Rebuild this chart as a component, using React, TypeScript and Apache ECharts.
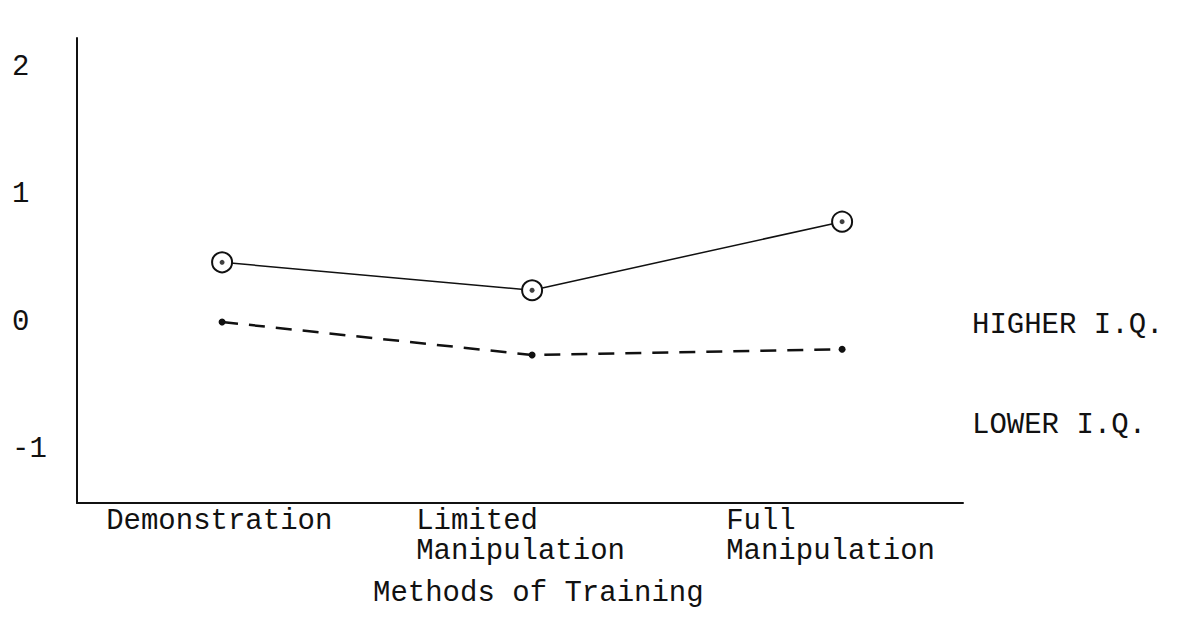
import React, { useEffect, useRef } from "react";
import * as echarts from "echarts";

const categories = ["Demonstration", "Limited\nManipulation", "Full\nManipulation"];
const categoryPositions = [1, 2, 3];
const higherIQ = [0.47, 0.25, 0.79];
const lowerIQ = [0.0, -0.26, -0.215];
const yTickValues = [-1, 0, 1, 2];
const xTitle = "Methods of Training";
const higherLabel = "HIGHER I.Q.";
const lowerLabel = "LOWER I.Q.";

const FONT = '"Liberation Mono", "DejaVu Sans Mono", monospace';
const FS = 29;
const INK = "#111";
const LABEL_SHIFT = 0.374;

export default function App() {
  const ref = useRef<HTMLDivElement>(null);
  useEffect(() => {
    if (!ref.current) return;
    const chart = echarts.init(ref.current, null, { renderer: "svg" });
    const higherData = categoryPositions.map((x, i) => [x, higherIQ[i]]);
    const lowerData = categoryPositions.map((x, i) => [x, lowerIQ[i]]);
    const labelValues = categoryPositions.map((x) => x - LABEL_SHIFT);
    chart.setOption({
      animation: false,
      backgroundColor: "#fff",
      grid: { left: 77, right: 215, top: 38, bottom: 124, containLabel: false },
      xAxis: {
        type: "value",
        min: 0.532,
        max: 3.39,
        axisLine: { show: true, onZero: false, lineStyle: { color: INK, width: 2 } },
        axisTick: { show: false },
        splitLine: { show: false },
        axisLabel: {
          customValues: labelValues,
          align: "left",
          verticalAlign: "top",
          margin: 3,
          color: INK,
          fontFamily: FONT,
          fontSize: FS,
          lineHeight: 30,
          formatter: (v: number) => {
            const idx = Math.round(v + LABEL_SHIFT) - 1;
            return categories[idx] ?? "";
          },
        },
      },
      yAxis: {
        type: "value",
        min: -1.425,
        max: 2.236,
        axisLine: { show: true, onZero: false, lineStyle: { color: INK, width: 2 } },
        axisTick: { show: false },
        splitLine: { show: false },
        axisLabel: {
          customValues: yTickValues,
          align: "left",
          margin: 65,
          color: INK,
          fontFamily: FONT,
          fontSize: FS,
          formatter: (v: number) => String(v),
        },
      },
      series: [
        {
          type: "line",
          data: higherData,
          symbol: "emptyCircle",
          symbolSize: 20,
          lineStyle: { color: INK, width: 1.5 },
          itemStyle: { color: INK, borderColor: INK, borderWidth: 1.8 },
          z: 3,
        },
        {
          type: "scatter",
          data: higherData,
          symbol: "circle",
          symbolSize: 5,
          itemStyle: { color: INK },
          z: 4,
        },
        {
          type: "line",
          data: lowerData,
          symbol: "circle",
          symbolSize: 7,
          lineStyle: { color: INK, width: 2.5, type: [16, 11] },
          itemStyle: { color: INK },
          z: 3,
        },
      ],
      graphic: [
        {
          type: "text",
          left: 972,
          top: 311,
          style: { text: higherLabel, font: `${FS}px ${FONT}`, fill: INK },
        },
        {
          type: "text",
          left: 972,
          top: 411,
          style: { text: lowerLabel, font: `${FS}px ${FONT}`, fill: INK },
        },
        {
          type: "text",
          left: 373,
          top: 579,
          style: { text: xTitle, font: `${FS}px ${FONT}`, fill: INK },
        },
      ],
    });
    return () => chart.dispose();
  }, []);
  return (
    <div
      ref={ref}
      style={{ position: "absolute", left: 0, top: 0, width: 1178, height: 627 }}
    />
  );
}
